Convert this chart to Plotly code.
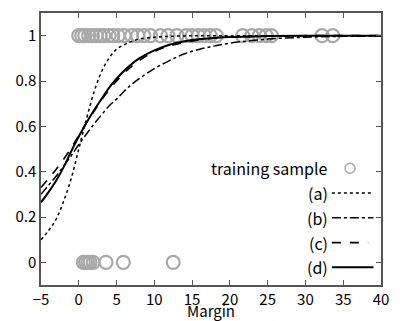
import plotly.graph_objects as go

# Curve sample points
x_curve = [-5, -4, -3, -2, -1, 0, 1, 2, 3, 4, 5, 6, 7, 8, 10, 12, 14, 16, 18, 20, 25, 30, 35, 40]
y_a = [0.10, 0.14, 0.19, 0.27, 0.37, 0.50, 0.63, 0.75, 0.84, 0.90, 0.94, 0.96, 0.975, 0.985,
       0.993, 0.997, 0.999, 1.0, 1.0, 1.0, 1.0, 1.0, 1.0, 1.0]
y_b = [0.30, 0.34, 0.38, 0.425, 0.47, 0.52, 0.565, 0.61, 0.65, 0.69, 0.72, 0.755, 0.785, 0.81,
       0.855, 0.89, 0.92, 0.94, 0.955, 0.967, 0.985, 0.993, 0.997, 0.999]
y_c = [0.33, 0.37, 0.41, 0.455, 0.505, 0.56, 0.615, 0.665, 0.715, 0.76, 0.80, 0.835, 0.865, 0.89,
       0.93, 0.955, 0.97, 0.982, 0.99, 0.994, 0.998, 1.0, 1.0, 1.0]
y_d = [0.265, 0.31, 0.36, 0.42, 0.49, 0.555, 0.615, 0.67, 0.72, 0.77, 0.81, 0.845, 0.875, 0.90,
       0.935, 0.96, 0.975, 0.985, 0.99, 0.994, 0.998, 1.0, 1.0, 1.0]

# Training samples
pos_margin = [0, 0.4, 0.8, 1.3, 1.8, 2.3, 2.8, 3.3, 4.0, 4.5, 5.2, 6.0, 7.0, 7.8, 8.6, 9.5,
              10.8, 11.8, 13.0, 14.2, 15.0, 15.8, 16.6, 17.4, 18.2, 21.7, 22.9, 23.9, 24.8,
              25.5, 32.2, 33.6]
neg_margin = [0.6, 0.9, 1.2, 1.5, 1.9, 3.6, 5.9, 12.5]
pos_label = [1] * len(pos_margin)
neg_label = [0] * len(neg_margin)

x_ticks = [-5, 0, 5, 10, 15, 20, 25, 30, 35, 40]
y_ticks = [0, 0.2, 0.4, 0.6, 0.8, 1]
y_tick_text = ["0", "0.2", "0.4", "0.6", "0.8", "1"]

legend_names = ["training sample", "(a)", "(b)", "(c)", "(d)"]

FONT = "Noto Sans CJK JP"
GRAY = "#a8a8a8"

fig = go.Figure()
marker = dict(symbol="circle-open", size=13, color=GRAY, line=dict(width=2.2, color=GRAY))
fig.add_trace(go.Scatter(x=pos_margin, y=pos_label, mode="markers", marker=marker, showlegend=False))
fig.add_trace(go.Scatter(x=neg_margin, y=neg_label, mode="markers", marker=marker, showlegend=False))

styles = [("dot", 1.5), ("dashdot", 1.5), ("dash", 1.6), ("solid", 2.0)]
for ys, (dash, w) in zip([y_a, y_b, y_c, y_d], styles):
    fig.add_trace(go.Scatter(x=x_curve, y=ys, mode="lines", line=dict(color="black", width=w, dash=dash, shape="spline"),
                             showlegend=False))

# Manual legend (text left of sample, as in the reference)
leg_y = [0.415, 0.306, 0.197, 0.087, -0.022]
for name, yy in zip(legend_names, leg_y):
    fig.add_annotation(x=33.3, y=yy, xref="x", yref="y", text=name, showarrow=False, xanchor="right",
                       font=dict(family=FONT, size=16, color="black"))
fig.add_trace(go.Scatter(x=[35.9], y=[leg_y[0]], mode="markers",
                         marker=dict(symbol="circle-open", size=10, color=GRAY, line=dict(width=1.5, color=GRAY)),
                         showlegend=False))
for (dash, w), yy, x1 in zip(styles, leg_y[1:], [38.8, 39.0, 38.3, 39.0]):
    fig.add_shape(type="line", x0=33.5, x1=x1, y0=yy, y1=yy, xref="x", yref="y",
                  line=dict(color="black", width=w, dash=dash))

axis_common = dict(showline=True, linecolor="#555555", linewidth=1.5, mirror="ticks", ticks="inside",
                   ticklen=5, tickwidth=1.2, tickcolor="#555555", showgrid=False, zeroline=False,
                   tickfont=dict(family=FONT, size=15, color="black"))
fig.update_xaxes(range=[-5, 40], tickvals=x_ticks, **axis_common)
fig.update_yaxes(range=[-0.1, 1.1], tickvals=y_ticks, ticktext=y_tick_text, **axis_common)

fig.add_annotation(x=0.5, y=0, xref="paper", yref="paper", yshift=-25.5, text="Margin", showarrow=False,
                   xanchor="center", yanchor="middle", font=dict(family=FONT, size=15, color="black"))

fig.update_layout(width=400, height=321, margin=dict(l=41, r=11, t=11, b=36),
                  plot_bgcolor="white", paper_bgcolor="white", font=dict(family=FONT))
fig.write_html("out.html", config={"displayModeBar": False},
               post_script="document.body.style.margin='0';")
